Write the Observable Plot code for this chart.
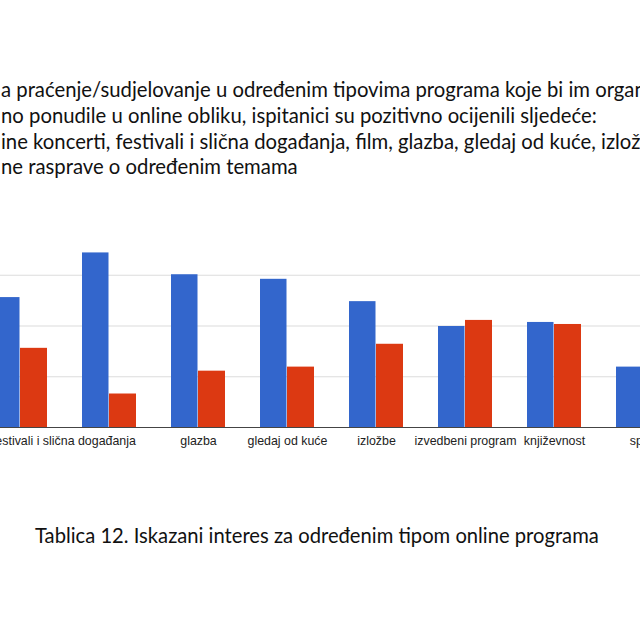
<!DOCTYPE html>
<html>
<head>
<meta charset="utf-8">
<script src="https://cdn.jsdelivr.net/npm/d3@7"></script>
<script src="https://cdn.jsdelivr.net/npm/@observablehq/plot@0.6"></script>
<style>
  html, body { margin: 0; padding: 0; background: #fff; }
  #page { position: relative; width: 640px; height: 640px; overflow: hidden; background: #fff; }
  .intro { position: absolute; left: 1px; white-space: nowrap; font-family: Lato, "Open Sans", sans-serif; font-size: 20.3px; line-height: 1.2; color: #111; }
  #chart { position: absolute; left: 0; top: 224px; }
  #caption { position: absolute; left: 35px; white-space: nowrap; font-family: Lato, "Open Sans", sans-serif; font-size: 20.2px; line-height: 1.2; color: #111; }
</style>
</head>
<body>
<div id="page">
  <div id="intro"></div>
  <div id="chart"></div>
  <div id="caption"></div>
</div>
<script>
// Text (visible, cropped fragments of the slide)
const introLines = [
  "a praćenje/sudjelovanje u određenim tipovima programa koje bi im organizacije",
  "no ponudile u online obliku, ispitanici su pozitivno ocijenili sljedeće:",
  "ine koncerti, festivali i slična događanja, film, glazba, gledaj od kuće, izložbe,",
  "ne rasprave o određenim temama"
];
const captionText = "Tablica 12. Iskazani interes za određenim tipom online programa";

// Chart data
const categories = [
  "online koncerti, festivali i slična događanja",
  "film",
  "glazba",
  "gledaj od kuće",
  "izložbe",
  "izvedbeni program",
  "književnost",
  "sport"
];
// tick labels shown (the "film" label is hidden in the original chart)
const tickLabels = [
  "online koncerti, festivali i slična događanja",
  "glazba",
  "gledaj od kuće",
  "izložbe",
  "izvedbeni program",
  "književnost",
  "sport"
];
const seriesNames = ["da", "ne"];
const seriesColors = ["#3366cc", "#dc3912"];
const valuesDa = [25.6, 34.4, 30.1, 29.2, 24.8, 19.9, 20.7, 11.9];
const valuesNe = [15.6, 6.6, 11.1, 11.9, 16.4, 21.1, 20.3, 9.0];
const gridValues = [10, 20, 30];

const tableDa = categories.map((c, i) => ({category: c, value: valuesDa[i], series: seriesNames[0]}));
const tableNe = categories.map((c, i) => ({category: c, value: valuesNe[i], series: seriesNames[1]}));

// intro text
const intro = document.getElementById("intro");
const baselines = [97, 123, 148.5, 174];
introLines.forEach((t, i) => {
  const d = document.createElement("div");
  d.className = "intro";
  d.style.top = (baselines[i] - 20) + "px";
  d.textContent = t;
  intro.appendChild(d);
});
const cap = document.getElementById("caption");
cap.textContent = captionText;
cap.style.top = (543 - 20) + "px";

const chart = Plot.plot({
  width: 640,
  height: 233,
  marginTop: 0,
  marginBottom: 30,
  marginLeft: -25.8,
  marginRight: -47.8,
  style: {fontFamily: "'Liberation Sans', Arial, sans-serif", fontSize: "12.4px", color: "#222", background: "transparent"},
  x: {domain: categories, paddingInner: 0.395, paddingOuter: 0.1975, align: 0.5, label: null, tickSize: 0, tickPadding: 8.5, ticks: tickLabels},
  y: {domain: [0, 40], axis: null},
  color: {domain: seriesNames, range: seriesColors},
  marks: [
    Plot.ruleY(gridValues, {stroke: "#dcdcdc", strokeWidth: 1.2}),
    Plot.barY(tableDa, {x: "category", y: "value", fill: "series", insetRight: 27.5}),
    Plot.barY(tableNe, {x: "category", y: "value", fill: "series", insetLeft: 27}),
    Plot.ruleY([0], {stroke: "#444", strokeWidth: 1})
  ]
});
document.getElementById("chart").appendChild(chart);
</script>
</body>
</html>
